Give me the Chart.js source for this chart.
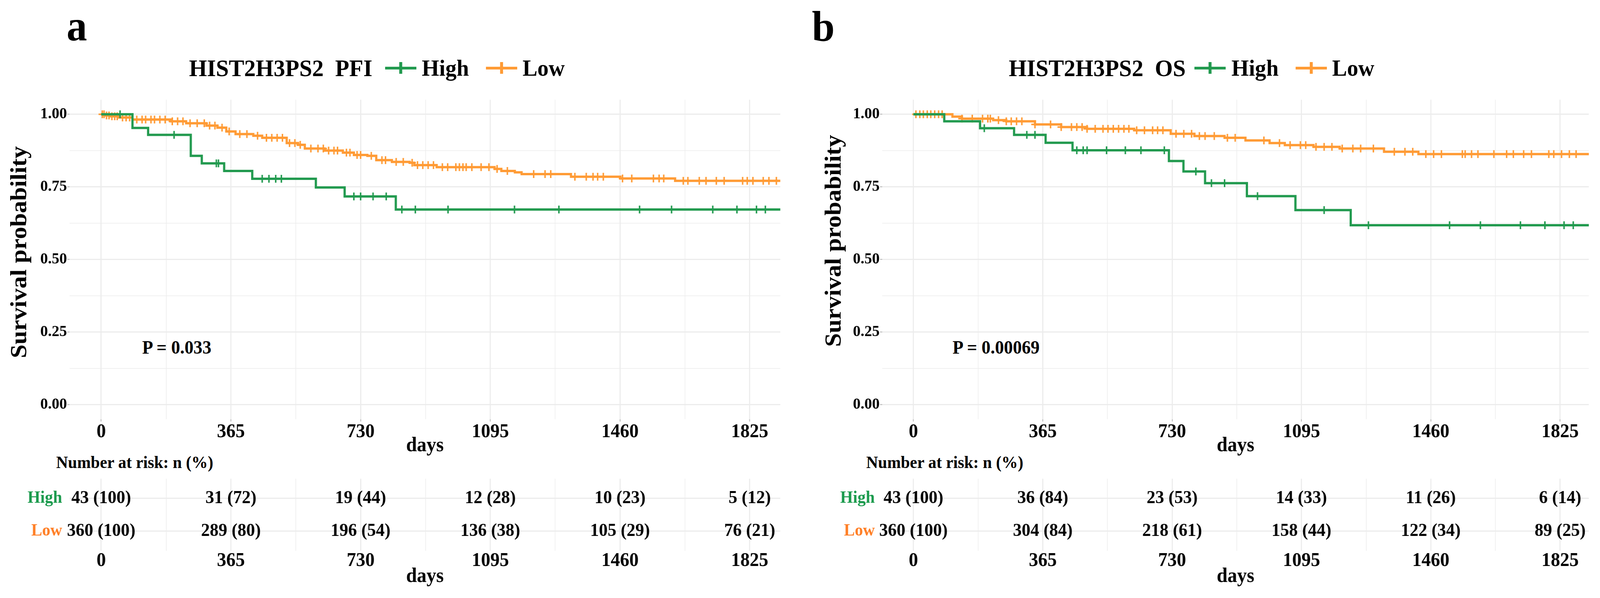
<!DOCTYPE html>
<html>
<head>
<meta charset="utf-8">
<script src="https://cdn.jsdelivr.net/npm/chart.js@4.4.0/dist/chart.umd.min.js"></script>
<style>
  html, body { margin:0; padding:0; background:#ffffff; overflow:hidden; }
  #page { position:absolute; left:0; top:0; width:4300px; height:1532px; overflow:hidden; transform-origin:0 0;
          font-family:"Liberation Serif","Times New Roman",serif; font-weight:bold; color:#000; background:#fff; }
  .t { position:absolute; white-space:nowrap; line-height:1; }
  canvas { position:absolute; }
  .legend { position:absolute; display:flex; align-items:center; white-space:nowrap; line-height:1; }
  .sym { position:relative; display:inline-block; height:30px; }
  .sym .h { position:absolute; left:0; right:0; top:11.5px; height:7px; }
  .sym .v { position:absolute; top:0; height:30px; width:8px; }
  .ytitle { position:absolute; white-space:nowrap; line-height:1; transform:translate(-50%,-50%) rotate(-90deg); }
</style>
</head>
<body>
<div id="page">
<div class="t" style="left:179px;top:11px;font-size:110px;">a</div>
<div class="t" style="left:2182px;top:13px;font-size:110px;">b</div>

<div class="legend" id="legA" style="left:508px;top:143px;"></div>
<div class="legend" id="legB" style="left:2711px;top:143px;"></div>

<div class="ytitle" style="left:50px;top:646px;font-size:63px;">Survival probability</div>
<div class="ytitle" style="left:2239px;top:617px;font-size:63px;">Survival probability</div>

<div class="t" id="pA" style="left:382px;top:866px;font-size:48px;"></div>
<div class="t" id="pB" style="left:2560px;top:866px;font-size:48px;"></div>

<div class="t" style="left:151px;top:1163px;font-size:44px;">Number at risk: n (%)</div>
<div class="t" style="left:2328px;top:1163px;font-size:44px;">Number at risk: n (%)</div>

<canvas id="kmA" width="2150" height="950" style="left:0px;top:230px;"></canvas>
<canvas id="kmB" width="2150" height="950" style="left:2150px;top:230px;"></canvas>
<canvas id="rkA" width="2150" height="352" style="left:0px;top:1180px;"></canvas>
<canvas id="rkB" width="2150" height="352" style="left:2150px;top:1180px;"></canvas>
</div>

<script>
// ---------------- data ----------------
const groups = ['High', 'Low'];
const xMajorTicks = [0, 365, 730, 1095, 1460, 1825];
const xMinorTicks = [182.5, 547.5, 912.5, 1277.5, 1642.5];
const yMajorTicks = [0, 0.25, 0.5, 0.75, 1];
const yMinorTicks = [0.125, 0.375, 0.625, 0.875];
const riskTimes = [0, 365, 730, 1095, 1460, 1825];

const geneName = 'HIST2H3PS2';
const endpointA = 'PFI';
const endpointB = 'OS';
const pValueA = '0.033';
const pValueB = '0.00069';

// Panel a: PFI
const pfiHighTime = [0, 88, 132, 252, 283, 346, 425, 604, 685, 829, 1914];
const pfiHighSurv = [1, 0.953, 0.929, 0.857, 0.831, 0.805, 0.778, 0.748, 0.717, 0.672, 0.672];
const pfiHighCensor = [53, 205, 324, 330, 453, 472, 491, 507, 711, 730, 765, 802, 846, 884, 976, 1163, 1288, 1515, 1605, 1721, 1789, 1844, 1869];

const pfiLowTime = [0, 10, 25, 50, 88, 195, 239, 296, 327, 352, 378, 428, 453, 522, 554, 573, 629, 680, 711, 749, 774, 818, 868, 881, 944, 1107, 1126, 1164, 1183, 1322, 1461, 1615, 1914];
const pfiLowSurv = [1, 0.996, 0.993, 0.989, 0.982, 0.976, 0.969, 0.961, 0.954, 0.941, 0.932, 0.926, 0.919, 0.901, 0.895, 0.882, 0.875, 0.868, 0.860, 0.857, 0.842, 0.836, 0.833, 0.825, 0.818, 0.812, 0.805, 0.800, 0.794, 0.785, 0.779, 0.771, 0.771];
const pfiLowCensor = [3, 8, 15, 22, 30, 38, 45, 60, 70, 80, 100, 115, 125, 140, 150, 165, 180, 200, 215, 230, 250, 270, 290, 305, 320, 340, 360, 390, 410, 440, 465, 480, 495, 510, 530, 545, 560, 590, 610, 625, 640, 655, 665, 690, 700, 720, 730, 760, 790, 800, 830, 850, 875, 890, 905, 920, 935, 960, 975, 998, 1008, 1018, 1027, 1043, 1069, 1091, 1114, 1143, 1217, 1249, 1265, 1333, 1365, 1384, 1397, 1413, 1467, 1493, 1554, 1570, 1583, 1638, 1651, 1683, 1702, 1731, 1753, 1805, 1818, 1834, 1863, 1879, 1900];

const pfiRiskHighN = [43, 31, 19, 12, 10, 5];
const pfiRiskHighPct = [100, 72, 44, 28, 23, 12];
const pfiRiskLowN = [360, 289, 196, 136, 105, 76];
const pfiRiskLowPct = [100, 80, 54, 38, 29, 21];

// Panel b: OS
const osHighTime = [0, 87, 188, 284, 373, 449, 721, 762, 823, 941, 1078, 1234, 1906];
const osHighSurv = [1, 0.976, 0.952, 0.929, 0.902, 0.876, 0.839, 0.803, 0.763, 0.718, 0.670, 0.618, 0.618];
const osHighCensor = [200, 320, 343, 461, 479, 490, 545, 598, 642, 708, 797, 841, 878, 971, 1159, 1284, 1513, 1600, 1713, 1782, 1836, 1862];

const osLowTime = [0, 110, 137, 225, 262, 343, 417, 490, 623, 726, 793, 878, 937, 1005, 1048, 1129, 1203, 1328, 1425, 1906];
const osLowSurv = [1, 0.992, 0.985, 0.980, 0.976, 0.965, 0.956, 0.950, 0.945, 0.933, 0.925, 0.919, 0.910, 0.901, 0.894, 0.888, 0.882, 0.871, 0.863, 0.863];
const osLowCensor = [7, 18, 28, 39, 49, 60, 71, 81, 137, 166, 195, 210, 217, 240, 262, 276, 291, 306, 343, 387, 417, 446, 461, 476, 490, 513, 535, 549, 564, 579, 594, 608, 630, 652, 675, 689, 704, 741, 763, 785, 807, 823, 849, 886, 908, 989, 1033, 1063, 1092, 1107, 1136, 1159, 1181, 1210, 1240, 1262, 1298, 1357, 1387, 1409, 1446, 1468, 1490, 1549, 1557, 1575, 1593, 1638, 1674, 1693, 1722, 1744, 1793, 1807, 1829, 1851, 1870];

const osRiskHighN = [43, 36, 23, 14, 11, 6];
const osRiskHighPct = [100, 84, 53, 33, 26, 14];
const osRiskLowN = [360, 304, 218, 158, 122, 89];
const osRiskLowPct = [100, 84, 61, 44, 34, 25];

// ---------------- style ----------------
const GREEN = '#229a4f';
const ORANGE = '#ff9b35';
const GREEN_TXT = '#1a9a4c';
const ORANGE_TXT = '#ff7f26';
const GRID = '#ececec';
const FONT = 'Liberation Serif';

// fit the 4300x1532 page into the actual viewport (each direction on its own)
const page = document.getElementById('page');
const fitX = window.innerWidth / 4300;
const fitY = window.innerHeight / 1532;
if (Math.abs(fitX - 1) > 0.002 || Math.abs(fitY - 1) > 0.002) {
  page.style.transform = 'scale(' + fitX + ',' + fitY + ')';
}

// ---------------- helpers ----------------
function survAt(times, surv, t) {
  let s = surv[0];
  for (let i = 0; i < times.length; i++) { if (times[i] <= t) s = surv[i]; }
  return s;
}
function toXY(times, surv) { return times.map((t, i) => ({x: t, y: surv[i]})); }
function censorXY(cens, times, surv) { return cens.map(t => ({x: t, y: survAt(times, surv, t)})); }
const isMajorX = v => xMajorTicks.includes(v);
const isMajorY = v => yMajorTicks.includes(v);
const allX = xMajorTicks.concat(xMinorTicks).sort((a, b) => a - b);
const allY = yMajorTicks.concat(yMinorTicks).sort((a, b) => a - b);

function buildLegend(el, endpoint, gap) {
  const sym = (c) => '<span class="sym" style="width:84px"><span class="h" style="background:' + c + '"></span><span class="v" style="left:38px;background:' + c + '"></span></span>';
  el.innerHTML =
    '<span style="font-size:62px">' + geneName + '&nbsp;&nbsp;' + endpoint + '</span>' +
    '<span style="margin-left:' + gap + 'px"></span>' + sym(GREEN) +
    '<span style="font-size:60px;margin-left:15px">' + groups[0] + '</span>' +
    '<span style="margin-left:46px"></span>' + sym(ORANGE) +
    '<span style="font-size:60px;margin-left:14px">' + groups[1] + '</span>';
}
buildLegend(document.getElementById('legA'), endpointA, 34);
buildLegend(document.getElementById('legB'), endpointB, 24);
document.getElementById('pA').textContent = 'P = ' + pValueA;
document.getElementById('pB').textContent = 'P = ' + pValueB;

function xAxis(xMin, xMax, height, opts) {
  return {
    type: 'linear', min: xMin, max: xMax,
    afterBuildTicks: s => { s.ticks = allX.map(v => ({value: v})); },
    afterFit: s => { s.height = height; },
    border: {display: false},
    grid: {
      color: GRID,
      lineWidth: c => (c.tick && isMajorX(c.tick.value)) ? 3 : 1.5,
      drawTicks: opts.drawTicks,
      tickLength: 6, tickWidth: 2,
      tickColor: c => (c.tick && isMajorX(c.tick.value)) ? '#b0b0b0' : 'rgba(0,0,0,0)'
    },
    ticks: {
      autoSkip: false, maxRotation: 0, minRotation: 0,
      padding: opts.tickPad, color: '#000',
      font: {family: FONT, weight: 'bold', size: 50, lineHeight: opts.lh},
      callback: v => isMajorX(v) ? String(v) : ''
    },
    title: {
      display: true, text: 'days', color: '#000',
      font: {family: FONT, weight: 'bold', size: 52, lineHeight: 1.2},
      padding: {top: 0, bottom: opts.titlePad}
    }
  };
}

function kmChart(id, cfg) {
  return new Chart(document.getElementById(id), {
    type: 'scatter',
    data: {
      datasets: [
        {label: groups[0] + ' censored', data: censorXY(cfg.highCensor, cfg.highTime, cfg.highSurv),
         pointStyle: 'cross', pointRadius: 10, pointBorderWidth: 4, borderColor: GREEN, backgroundColor: GREEN, showLine: false},
        {label: groups[0], data: toXY(cfg.highTime, cfg.highSurv), showLine: true, stepped: 'before',
         borderColor: GREEN, borderWidth: 6, pointRadius: 0, fill: false},
        {label: groups[1] + ' censored', data: censorXY(cfg.lowCensor, cfg.lowTime, cfg.lowSurv),
         pointStyle: 'cross', pointRadius: 10, pointBorderWidth: 4, borderColor: ORANGE, backgroundColor: ORANGE, showLine: false},
        {label: groups[1], data: toXY(cfg.lowTime, cfg.lowSurv), showLine: true, stepped: 'before',
         borderColor: ORANGE, borderWidth: 6, pointRadius: 0, fill: false}
      ]
    },
    options: {
      responsive: false, animation: false, devicePixelRatio: 1,
      layout: {padding: {left: 0, right: cfg.padRight, top: 13, bottom: 0}},
      plugins: {legend: {display: false}, tooltip: {enabled: false}},
      scales: {
        x: xAxis(cfg.xMin, cfg.xMax, 106, {drawTicks: true, tickPad: 0, lh: 1.1, titlePad: 6}),
        y: {
          type: 'linear', min: -0.05, max: 1.05,
          afterBuildTicks: s => { s.ticks = allY.map(v => ({value: v})); },
          afterFit: s => { s.width = cfg.yWidth; },
          border: {display: false},
          grid: {
            color: GRID,
            lineWidth: c => (c.tick && isMajorY(c.tick.value)) ? 3 : 1.5,
            drawTicks: true, tickLength: 6, tickWidth: 2,
            tickColor: c => (c.tick && isMajorY(c.tick.value)) ? '#b0b0b0' : 'rgba(0,0,0,0)'
          },
          ticks: {
            autoSkip: false, padding: 1, color: '#000',
            font: {family: FONT, weight: 'bold', size: 41},
            callback: v => isMajorY(v) ? v.toFixed(2) : ''
          }
        }
      }
    }
  });
}

const riskTextPlugin = {
  id: 'riskText',
  afterDatasetsDraw(chart) {
    const ctx = chart.ctx;
    ctx.save();
    ctx.font = 'bold 47px "' + FONT + '"';
    ctx.fillStyle = '#000';
    ctx.textAlign = 'center';
    ctx.textBaseline = 'middle';
    chart.data.datasets.forEach((ds, di) => {
      const meta = chart.getDatasetMeta(di);
      meta.data.forEach((pt, j) => {
        ctx.fillText(ds.riskN[j] + ' (' + ds.riskPct[j] + ')', pt.x, pt.y);
      });
    });
    ctx.restore();
  }
};

function riskChart(id, cfg) {
  return new Chart(document.getElementById(id), {
    type: 'scatter',
    data: {
      datasets: [
        {label: groups[0], data: riskTimes.map(t => ({x: t, y: 1})), riskN: cfg.highN, riskPct: cfg.highPct, pointRadius: 0},
        {label: groups[1], data: riskTimes.map(t => ({x: t, y: 2})), riskN: cfg.lowN, riskPct: cfg.lowPct, pointRadius: 0}
      ]
    },
    options: {
      responsive: false, animation: false, devicePixelRatio: 1,
      layout: {padding: {left: 0, right: cfg.padRight, top: 29, bottom: 0}},
      plugins: {legend: {display: false}, tooltip: {enabled: false}},
      scales: {
        x: xAxis(cfg.xMin, cfg.xMax, 121, {drawTicks: false, tickPad: 1, lh: 1.0, titlePad: 23}),
        y: {
          type: 'linear', min: 0.4, max: 2.6, reverse: true,
          afterBuildTicks: s => { s.ticks = [1, 2].map(v => ({value: v})); },
          afterFit: s => { s.width = cfg.yWidth; },
          border: {display: false},
          grid: {color: GRID, lineWidth: 3, drawTicks: false},
          ticks: {
            autoSkip: false, padding: 20,
            color: c => (c.tick && c.tick.value === 1) ? GREEN_TXT : ORANGE_TXT,
            font: {family: FONT, weight: 'bold', size: 44},
            callback: v => groups[v - 1]
          }
        }
      }
    },
    plugins: [riskTextPlugin]
  });
}

kmChart('kmA', {xMin: -89, xMax: 1911, yWidth: 187, padRight: 53,
  highTime: pfiHighTime, highSurv: pfiHighSurv, highCensor: pfiHighCensor,
  lowTime: pfiLowTime, lowSurv: pfiLowSurv, lowCensor: pfiLowCensor});
kmChart('kmB', {xMin: -88, xMax: 1906, yWidth: 221, padRight: 30,
  highTime: osHighTime, highSurv: osHighSurv, highCensor: osHighCensor,
  lowTime: osLowTime, lowSurv: osLowSurv, lowCensor: osLowCensor});
riskChart('rkA', {xMin: -89, xMax: 1911, yWidth: 187, padRight: 53,
  highN: pfiRiskHighN, highPct: pfiRiskHighPct, lowN: pfiRiskLowN, lowPct: pfiRiskLowPct});
riskChart('rkB', {xMin: -88, xMax: 1906, yWidth: 221, padRight: 30,
  highN: osRiskHighN, highPct: osRiskHighPct, lowN: osRiskLowN, lowPct: osRiskLowPct});
</script>
</body>
</html>
